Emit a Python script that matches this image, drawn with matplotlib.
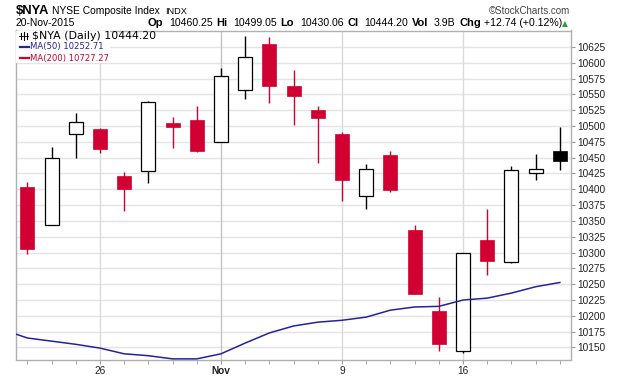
import matplotlib
matplotlib.use('Agg')
import matplotlib.pyplot as plt
import pandas as pd
from matplotlib.patches import Rectangle
from matplotlib.lines import Line2D

plt.rcParams['font.family'] = ['Liberation Sans', 'DejaVu Sans']

# daily candles, 21-Oct-2015 .. 20-Nov-2015
dates = ['2015-10-21', '2015-10-22', '2015-10-23', '2015-10-26', '2015-10-27', '2015-10-28',
         '2015-10-29', '2015-10-30', '2015-11-02', '2015-11-03', '2015-11-04', '2015-11-05',
         '2015-11-06', '2015-11-09', '2015-11-10', '2015-11-11', '2015-11-12', '2015-11-13',
         '2015-11-16', '2015-11-17', '2015-11-18', '2015-11-19', '2015-11-20']
opens = [10404, 10343, 10487, 10496, 10421, 10429, 10505, 10510, 10475, 10557, 10630, 10564,
         10526, 10488, 10389, 10454, 10336, 10207, 10144, 10320, 10285, 10425, 10460.25]
highs = [10412, 10467, 10521, 10497, 10428, 10539, 10515, 10532, 10592, 10643, 10640, 10589,
         10532, 10490, 10440, 10461, 10344, 10230, 10300, 10369, 10437, 10456, 10499.05]
lows = [10298, 10343, 10450, 10458, 10365, 10410, 10466, 10459, 10474, 10542, 10536, 10501,
        10441, 10381, 10369, 10396, 10234, 10145, 10141, 10265, 10284, 10415, 10430.06]
closes = [10306, 10449, 10506, 10464, 10400, 10538, 10498, 10460, 10579, 10609, 10563, 10548,
          10512, 10414, 10432, 10399, 10235, 10155, 10299, 10286, 10430, 10431.46, 10444.20]
prev_close = 10400  # close of 20-Oct

# MA(50), starting one day earlier (20-Oct)
ma50 = [10178, 10165, 10160, 10155, 10149, 10140, 10137, 10132, 10132, 10140, 10157, 10173,
        10184, 10190, 10193, 10198, 10209, 10214, 10215, 10225, 10228, 10236, 10246, 10252.71]

yticks = list(range(10150, 10626, 25))

RED = '#d10032'
BLK = '#000000'
W, H = 620, 376

fig = plt.figure(figsize=(6.2, 3.76), dpi=100)
ax = fig.add_axes([16 / W, 1 - 359.5 / H, (571 - 16) / W, (359.5 - 30.5) / H])

def fx(x):
    return x / W

def fy(y):
    return 1 - y / H

dts = pd.to_datetime(dates)
xs = list(range(len(dates)))

# grid
for v in yticks:
    ax.axhline(v, color='#e4e4e4', lw=1, zorder=0)
for i, d in enumerate(dts):
    if d.weekday() == 0:
        first = d.day <= 7
        ax.axvline(i, color='#c4c4c4' if first else '#dadada', lw=1, zorder=0)

# candles
body_w = 0.58
pc = prev_close
for x, o, h, l, c in zip(xs, opens, highs, lows, closes):
    col = BLK if c >= pc else RED
    ax.vlines(x, l, h, color=col, lw=1.0, zorder=2)
    filled = c < o
    ax.add_patch(Rectangle((x - body_w / 2, min(o, c)), body_w, max(abs(c - o), 0.8),
                           facecolor=col if filled else 'white',
                           edgecolor=col, lw=0.9 if not filled else 0.5, zorder=3))
    pc = c

# MA(50)
ma_x = list(range(-1, len(dates)))
ax.plot(ma_x, ma50, color='#23239b', lw=1.1, zorder=4)

ax.set_xlim(-0.47, 22.46)
ax.set_ylim(10131, 10651)

# axes styling
for s in ax.spines.values():
    s.set_color('#b0b0b0')
    s.set_linewidth(1)
ax.yaxis.tick_right()
ax.set_yticks(yticks)
ax.set_yticklabels([str(v) for v in yticks])
ax.tick_params(axis='y', length=3, color='#999999', labelsize=7.3, labelcolor='#222222', pad=1.5)

major = [i for i, d in enumerate(dts) if d.weekday() == 0]
labels = [d.strftime('%b') if d.day <= 7 else str(d.day) for d in dts if d.weekday() == 0]
ax.set_xticks(major)
ax.set_xticklabels(labels)
for t, d in zip(ax.get_xticklabels(), [d for d in dts if d.weekday() == 0]):
    if d.day <= 7:
        t.set_fontweight('bold')
        t.set_fontsize(8)
ax.set_xticks(xs, minor=True)
ax.tick_params(axis='x', which='both', length=3, color='#999999', labelsize=7.3,
               labelcolor='#222222', pad=1.5)

# legend box in the top-left corner
ax.add_patch(Rectangle((0, 1 - 32 / 329), (110 - 16) / 555, 32 / 329,
                       transform=ax.transAxes, facecolor='white', edgecolor='none', zorder=5))
for xx, y0, y1 in [(20.5, 32.5, 39), (23.5, 31.5, 40), (26.5, 33, 39)]:
    fig.add_artist(Line2D([fx(xx), fx(xx)], [fy(y0), fy(y1)], color='black', lw=0.8))
fig.add_artist(Line2D([fx(19.5), fx(27.5)], [fy(35.5), fy(35.5)], color='black', lw=0.6))
fig.text(fx(32), fy(35.7), '$NYA (Daily) 10444.20', color='black', fontsize=7.9,
         family='DejaVu Sans', va='center')
sm = dict(fontsize=6.1, family='DejaVu Sans', va='center')
fig.add_artist(Line2D([fx(20), fx(29)], [fy(47), fy(47)], color='#23239b', lw=1.6))
fig.text(fx(30), fy(47), 'MA(50) 10252.71', color='#23239b', **sm)
fig.add_artist(Line2D([fx(20), fx(29)], [fy(58), fy(58)], color=RED, lw=1.6))
fig.text(fx(30), fy(58), 'MA(200) 10727.27', color=RED, **sm)

# header
renderer = fig.canvas.get_renderer()

def run_left(x, y, parts):
    for txt, kw, gap in parts:
        t = fig.text(fx(x), fy(y), txt, va='baseline', ha='left', **kw)
        x += t.get_window_extent(renderer).width + gap

def run_right(x, y, parts):
    for txt, kw, gap in reversed(parts):
        t = fig.text(fx(x), fy(y), txt, va='baseline', ha='right', **kw)
        x -= t.get_window_extent(renderer).width + gap

run_left(16, 13.5, [('$NYA', dict(fontsize=9.4, fontweight='bold'), 3),
                    ('NYSE Composite Index', dict(fontsize=7.4), 5),
                    ('INDX', dict(fontsize=6.6), 0)])
fig.text(fx(570), fy(13.5), '\u00a9StockCharts.com', ha='right', va='baseline',
         fontsize=7.0, color='#444444')
fig.text(fx(16), fy(26.5), '20-Nov-2015', ha='left', va='baseline', fontsize=7.4)

b = dict(fontsize=8, fontweight='bold')
n = dict(fontsize=7.6)
run_right(568, 26.5, [('Op', b, 3.5), ('10460.25', n, 6), ('Hi', b, 3.5), ('10499.05', n, 6),
                      ('Lo', b, 3.5), ('10430.06', n, 6), ('Cl', b, 3.5), ('10444.20', n, 6),
                      ('Vol', b, 3.5), ('3.9B', n, 6), ('Chg', b, 3.5), ('+12.74 (+0.12%)', n, 3),
                      ('\u25b2', dict(fontsize=5.5, color='#2e9e3a', family='DejaVu Sans'), 0)])

fig.savefig('out.png', dpi=100)
